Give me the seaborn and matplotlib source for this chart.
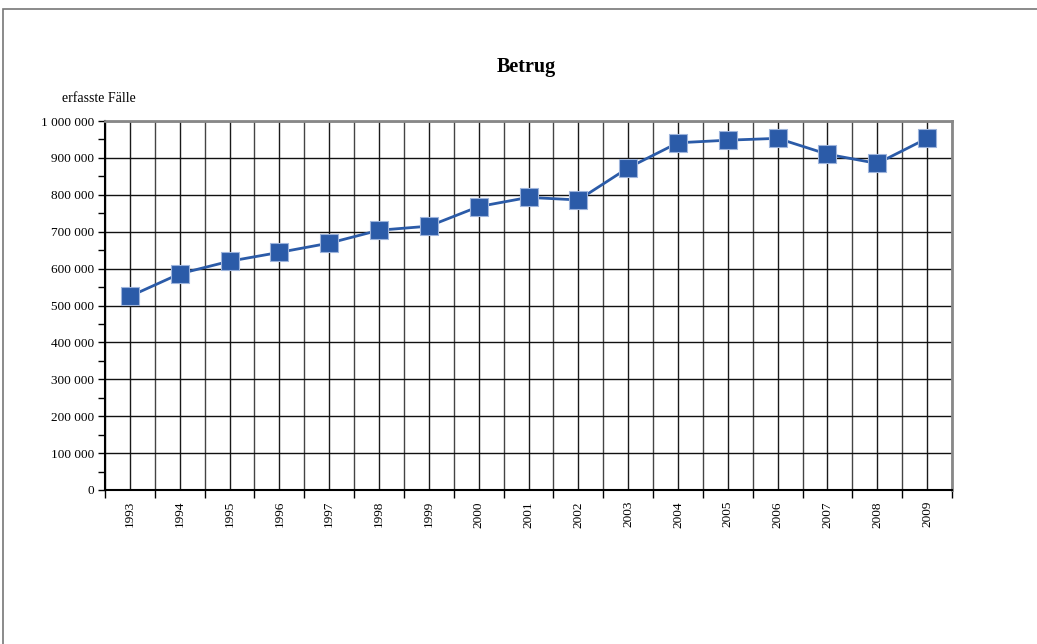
import matplotlib
matplotlib.use("Agg")
import matplotlib.pyplot as plt
import matplotlib.ticker as mticker
from matplotlib.patches import Rectangle
import seaborn as sns
import pandas as pd
import numpy as np

years = ["1993", "1994", "1995", "1996", "1997", "1998", "1999", "2000", "2001",
         "2002", "2003", "2004", "2005", "2006", "2007", "2008", "2009"]
cases = [525000, 586000, 620000, 644000, 669000, 704000, 715000, 768000, 793000,
         786000, 873000, 941000, 948000, 953000, 910000, 885000, 953000]
title = "Betrug"
ylabel = "erfasste Fälle"

sns.set_theme(style="white")
plt.rcParams["font.family"] = ["Liberation Serif", "DejaVu Serif"]

fig = plt.figure(figsize=(10.37, 6.44), dpi=100)
ax = fig.add_axes([105/1037, 1-490/644, (952-105)/1037, (490-121)/644])

df = pd.DataFrame({"year": years, "cases": cases})
n = len(years)
df["pos"] = np.arange(n)

blue = "#2B5BA8"
sns.lineplot(data=df, x="pos", y="cases", ax=ax, color=blue, linewidth=2.0,
             marker="s", markersize=12.5, markeredgecolor="#9db4dc",
             markeredgewidth=0.8, zorder=5)

ax.set_xlim(-0.5, n - 0.5)
ax.set_ylim(0, 1000000)

# grid
for i, x in enumerate(np.arange(-0.5, n, 0.5)):
    ax.axvline(x, color="#1a1a1a" if i % 2 else "#444444", linewidth=1.0, zorder=1)
for y in range(100000, 1000001, 100000):
    ax.axhline(y, color="#111111", linewidth=1.0, zorder=1)

# y ticks
ax.yaxis.set_major_locator(mticker.MultipleLocator(100000))
ax.yaxis.set_minor_locator(mticker.MultipleLocator(50000))
ax.yaxis.set_major_formatter(mticker.FuncFormatter(
    lambda v, p: f"{int(v):,}".replace(",", " ")))
ax.tick_params(axis="y", which="both", direction="out", length=5, width=1,
               color="black", left=True, labelsize=9.5, pad=3, labelcolor="black")

# x ticks: boundaries as major ticks, labels at centers
ax.set_xticks(np.arange(-0.5, n, 1.0))
ax.set_xticklabels([])
ax.set_xticks(np.arange(n), minor=True)
ax.set_xticklabels(years, minor=True, rotation=90, fontsize=9.5)
ax.tick_params(axis="x", which="major", direction="out", length=6, width=1,
               color="black", bottom=True)
ax.tick_params(axis="x", which="minor", length=0, pad=8, labelcolor="black")

ax.set_xlabel("")
ax.set_ylabel("")

for s in ["left", "bottom"]:
    ax.spines[s].set_color("black")
    ax.spines[s].set_linewidth(1.5)
for s in ["top", "right"]:
    ax.spines[s].set_color("#888888")
    ax.spines[s].set_linewidth(2.0)
for s in ax.spines.values():
    s.set_zorder(3)

fig.text(526/1037, 1-67/644, title, ha="center", va="center",
         fontsize=14.5, fontweight="bold", color="black")
fig.text(62/1037, 1-98/644, ylabel, ha="left", va="center",
         fontsize=10, color="black")

# outer frame (partially visible)
fig.patches.append(Rectangle((3/1037, -0.1), 1.2, 1-9/644 + 0.1,
                             transform=fig.transFigure, fill=False,
                             edgecolor="#777777", linewidth=1.2))

fig.savefig("out.png", dpi=100)
